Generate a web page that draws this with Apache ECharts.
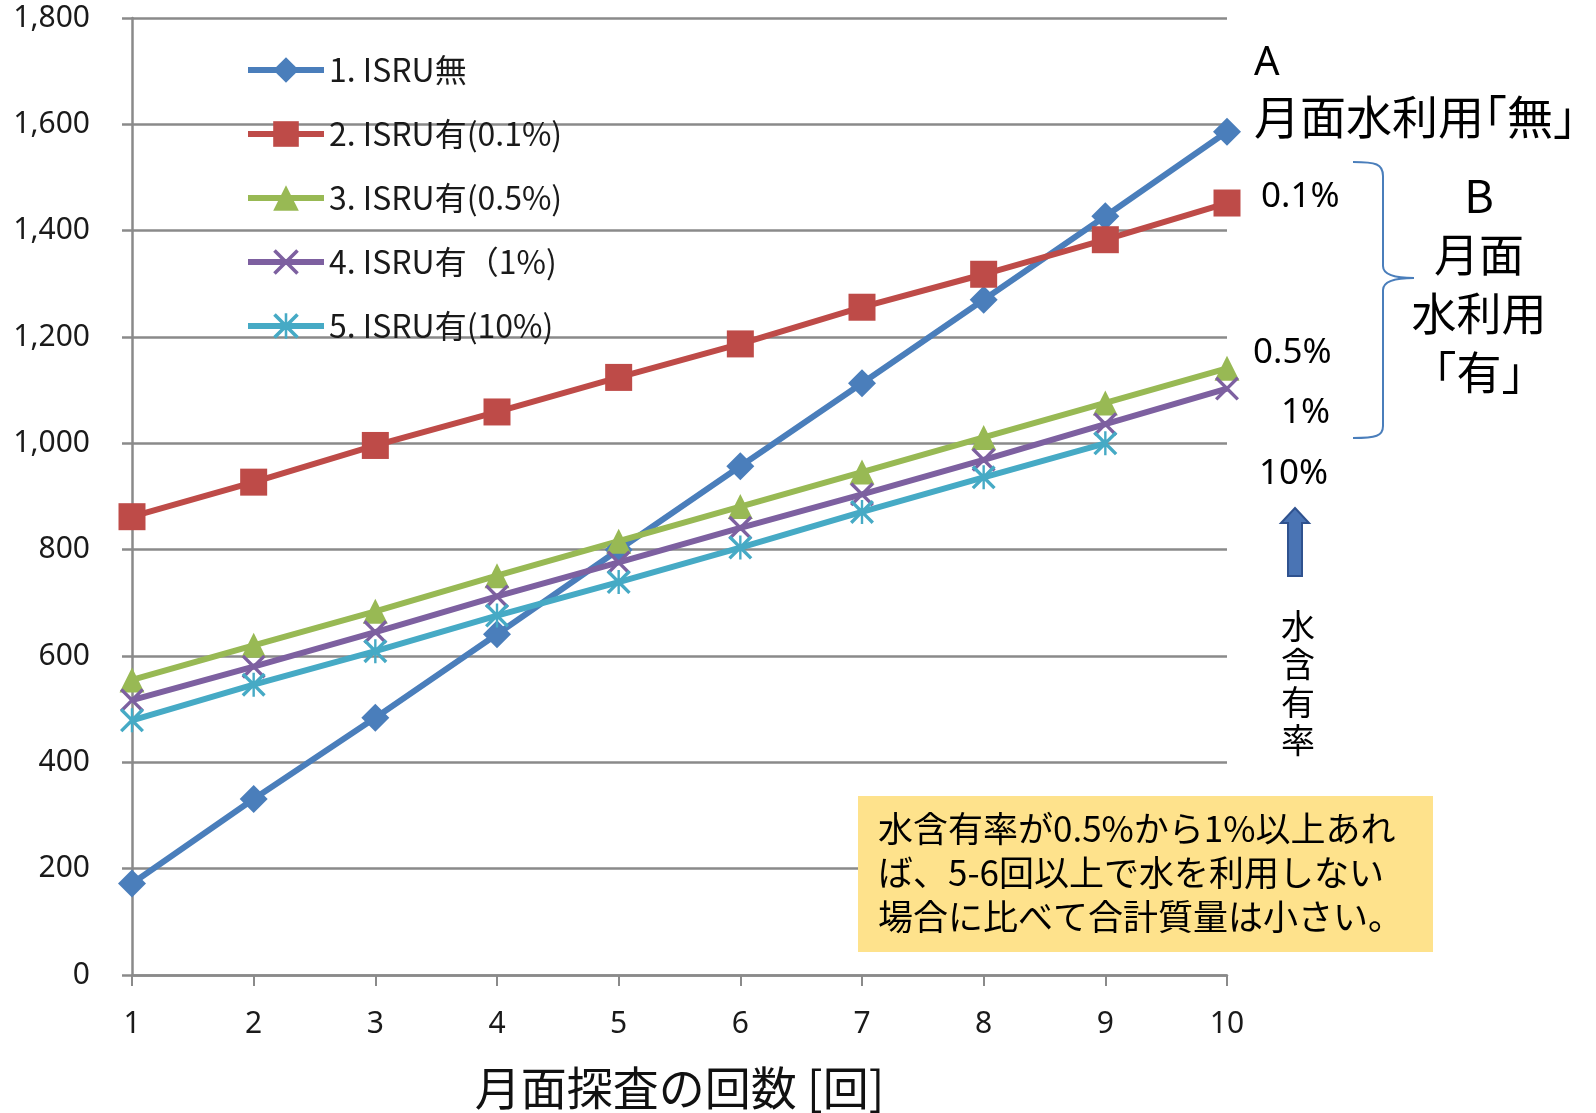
<!DOCTYPE html>
<html>
<head>
<meta charset="utf-8">
<script src="https://cdn.jsdelivr.net/npm/echarts@6/dist/echarts.min.js"></script>
<style>
  html, body { margin: 0; padding: 0; background: #fff; }
  #chart { width: 1596px; height: 1113px; }
</style>
</head>
<body>
<div id="chart"></div>
<script>
// 月面探査の回数
var missions = ['1', '2', '3', '4', '5', '6', '7', '8', '9', '10']

// 合計質量 (値はグラフから読み取り)
var isruNone = [172, 331, 484, 641, 800, 957, 1113, 1270, 1427, 1586]
var isru01 = [862, 927, 996, 1059, 1124, 1187, 1256, 1318, 1383, 1452]
var isru05 = [555, 620, 684, 751, 816, 881, 946, 1011, 1076, 1141]
var isru1 = [517, 580, 645, 712, 776, 841, 904, 969, 1036, 1103]
var isru10 = [479, 546, 609, 676, 739, 804, 871, 936, 1000, null]

var seriesNames = ['1. ISRU無', '2. ISRU有(0.1%)', '3. ISRU有(0.5%)', '4. ISRU有（1%)', '5. ISRU有(10%)']

var yTicks = { min: 0, max: 1800, interval: 200 }

var font = "'Noto Sans', 'Noto Sans CJK JP', sans-serif"
var cjk = "'Noto Sans CJK JP', 'Noto Sans', sans-serif"

// X印とアスタリスクのマーカー
var crossPath = 'path://M0,2 L2,0 L10,8 L18,0 L20,2 L12,10 L20,18 L18,20 L10,12 L2,20 L0,18 L8,10 Z'
var starPath = 'path://M0,2 L2,0 L10,8 L18,0 L20,2 L12,10 L20,18 L18,20 L10,12 L2,20 L0,18 L8,10 Z M9,0 L11,0 L11,20 L9,20 Z'

function lineSeries(name, data, color, symbol, size) {
  return {
    name: name,
    type: 'line',
    data: data,
    symbol: symbol,
    symbolSize: size,
    showAllSymbol: true,
    lineStyle: { color: color, width: 6 },
    itemStyle: { color: color, borderWidth: 0 },
    emphasis: { disabled: true }
  }
}

var braceStyle = { fill: 'none', stroke: '#4a7ebb', lineWidth: 2 }

var chart = echarts.init(document.getElementById('chart'))

var option = {
  animation: false,
  backgroundColor: '#fff',
  grid: {
    left: 132,
    right: 369,
    top: 18,
    bottom: 138,
    outerBoundsMode: 'none'
  },
  legend: {
    orient: 'vertical',
    left: 240,
    top: 48,
    itemWidth: 76,
    itemHeight: 32,
    itemGap: 30,
    itemTextGap: 0,
    data: seriesNames,
    lineStyle: { width: 6 },
    textStyle: {
      fontFamily: cjk,
      fontSize: 32,
      lineHeight: 34,
      color: '#1a1a1a'
    }
  },
  xAxis: {
    type: 'category',
    data: missions,
    boundaryGap: false,
    name: '月面探査の回数 [回]',
    nameLocation: 'middle',
    nameGap: 90,
    nameTextStyle: {
      fontFamily: cjk,
      fontSize: 46,
      color: '#111'
    },
    axisLine: { lineStyle: { color: '#8a8a8a', width: 2.5 } },
    axisTick: { show: true, length: 11, lineStyle: { color: '#8a8a8a', width: 2 } },
    axisLabel: {
      margin: 34,
      fontFamily: font,
      fontSize: 30,
      color: '#1a1a1a'
    },
    splitLine: { show: false }
  },
  yAxis: {
    type: 'value',
    min: yTicks.min,
    max: yTicks.max,
    interval: yTicks.interval,
    axisLine: { show: true, lineStyle: { color: '#8a8a8a', width: 2.5 } },
    axisTick: { show: true, length: 10, lineStyle: { color: '#8a8a8a', width: 2.5 } },
    axisLabel: {
      margin: 42,
      fontFamily: font,
      fontSize: 30,
      color: '#1a1a1a',
      formatter: function(v) {
        return v.toLocaleString('en-US')
      }
    },
    splitLine: { lineStyle: { color: '#8a8a8a', width: 2.5 } }
  },
  series: [
    lineSeries(seriesNames[0], isruNone, '#4a7ebb', 'diamond', 28),
    lineSeries(seriesNames[1], isru01, '#be4b48', 'rect', 27),
    lineSeries(seriesNames[2], isru05, '#98b954', 'triangle', 25),
    lineSeries(seriesNames[3], isru1, '#7d60a0', crossPath, 24),
    lineSeries(seriesNames[4], isru10, '#46aac5', starPath, 24)
  ],
  graphic: [
    { type: 'text', left: 1254, top: 44, z: 100, style: { text: 'A', font: '40px ' + font, fill: '#000' } },
    { type: 'text', left: 1254, top: 94, z: 100, style: { text: '月面水利用｢無｣', font: '46px ' + cjk, fill: '#000' } },
    { type: 'text', left: 1261, top: 180, z: 100, style: { text: '0.1%', font: '35px ' + font, fill: '#000' } },
    { type: 'text', left: 1253, top: 336, z: 100, style: { text: '0.5%', font: '35px ' + font, fill: '#000' } },
    { type: 'text', left: 1281, top: 396, z: 100, style: { text: '1%', font: '35px ' + font, fill: '#000' } },
    { type: 'text', left: 1259, top: 457, z: 100, style: { text: '10%', font: '35px ' + font, fill: '#000' } },
    {
      type: 'text',
      x: 1479,
      y: 166,
      z: 100,
      style: {
        text: 'B\n月面\n水利用\n「有」',
        font: '45px ' + cjk,
        lineHeight: 59,
        align: 'center',
        fill: '#000'
      }
    },
    // 中括弧
    { type: 'bezierCurve', z: 100, shape: { x1: 1353, y1: 162, cpx1: 1376, cpy1: 162, cpx2: 1383, cpy2: 164, x2: 1383, y2: 176 }, style: braceStyle },
    { type: 'line', z: 100, shape: { x1: 1383, y1: 176, x2: 1383, y2: 266 }, style: braceStyle },
    { type: 'bezierCurve', z: 100, shape: { x1: 1383, y1: 266, cpx1: 1383, cpy1: 274, cpx2: 1392, cpy2: 278, x2: 1414, y2: 278 }, style: braceStyle },
    { type: 'bezierCurve', z: 100, shape: { x1: 1414, y1: 278, cpx1: 1392, cpy1: 278, cpx2: 1383, cpy2: 282, x2: 1383, y2: 290 }, style: braceStyle },
    { type: 'line', z: 100, shape: { x1: 1383, y1: 290, x2: 1383, y2: 426 }, style: braceStyle },
    { type: 'bezierCurve', z: 100, shape: { x1: 1383, y1: 426, cpx1: 1383, cpy1: 436, cpx2: 1376, cpy2: 438, x2: 1353, y2: 438 }, style: braceStyle },
    // 矢印
    {
      type: 'polygon',
      z: 100,
      shape: {
        points: [[1295, 508], [1309, 523], [1302, 523], [1302, 576], [1288, 576], [1288, 523], [1281, 523]]
      },
      style: { fill: '#4a74b4', stroke: '#2f528f', lineWidth: 2 }
    },
    {
      type: 'text',
      x: 1298,
      y: 607,
      z: 100,
      style: {
        text: '水\n含\n有\n率',
        font: '34px ' + cjk,
        lineHeight: 38,
        align: 'center',
        fill: '#000'
      }
    },
    // 注記ボックス
    {
      type: 'rect',
      z: 100,
      shape: { x: 858, y: 796, width: 575, height: 156 },
      style: { fill: '#fee28c' }
    },
    {
      type: 'text',
      left: 878,
      top: 807,
      z: 101,
      style: {
        text: '水含有率が0.5%から1%以上あれ\nば、5-6回以上で水を利用しない\n場合に比べて合計質量は小さい。',
        font: '35px ' + cjk,
        lineHeight: 44,
        fill: '#000'
      }
    }
  ]
}

chart.setOption(option)
</script>
</body>
</html>
